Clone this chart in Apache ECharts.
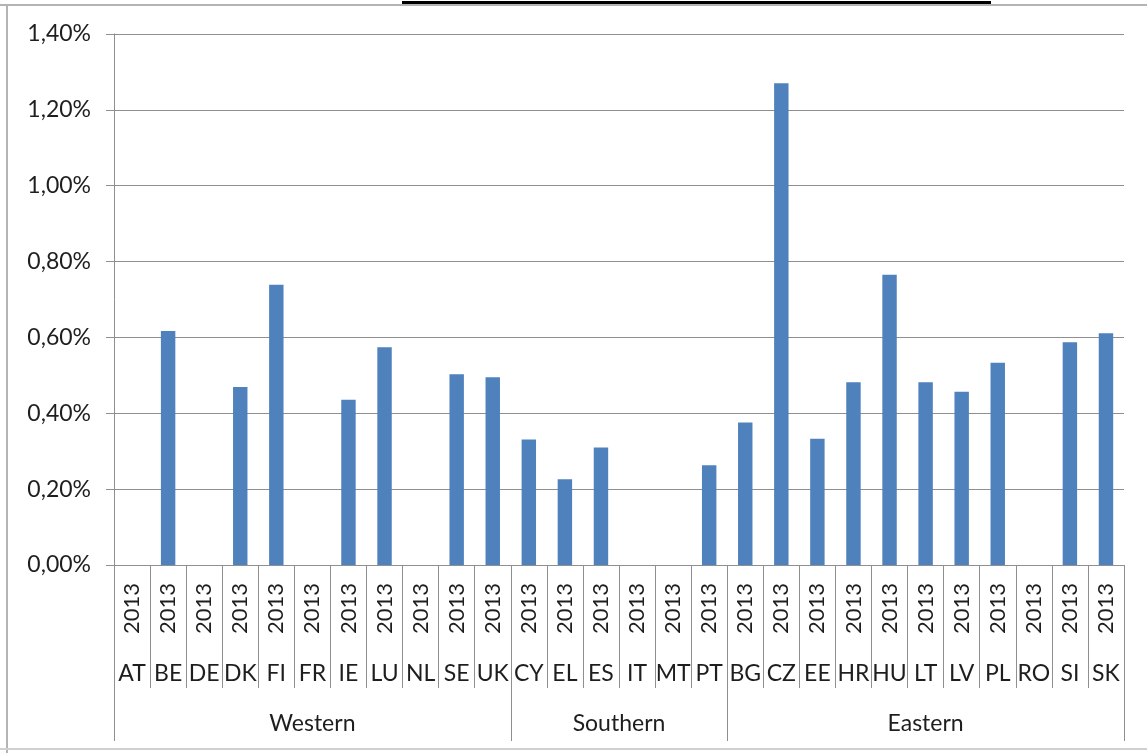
<!DOCTYPE html>
<html>
<head>
<meta charset="utf-8">
<script src="https://cdn.jsdelivr.net/npm/echarts@6/dist/echarts.min.js"></script>
<style>
html,body{margin:0;padding:0;background:#fff;}
#chart{width:1147px;height:753px;}
</style>
</head>
<body>
<div id="chart"></div>
<script>
// ---- data ----
var countries = ['AT','BE','DE','DK','FI','FR','IE','LU','NL','SE','UK','CY','EL','ES','IT','MT','PT','BG','CZ','EE','HR','HU','LT','LV','PL','RO','SI','SK'];
var years = ['2013','2013','2013','2013','2013','2013','2013','2013','2013','2013','2013','2013','2013','2013','2013','2013','2013','2013','2013','2013','2013','2013','2013','2013','2013','2013','2013','2013'];
var values = [0, 0.617, 0, 0.469, 0.739, 0, 0.436, 0.574, 0, 0.503, 0.495, 0.331, 0.226, 0.310, 0, 0, 0.263, 0.376, 1.270, 0.333, 0.482, 0.765, 0.482, 0.457, 0.533, 0, 0.587, 0.611];
var regions = ['Western','Southern','Eastern'];
var regionStart = [0, 11, 17];
var regionCount = [11, 6, 11];
var yTicks = ['0,00%','0,20%','0,40%','0,60%','0,80%','1,00%','1,20%','1,40%'];

var FONT = 'Lato';
var GRAY = '#8f8f8f';
var TXT = '#1e1e1e';

// region label centers (in category units)
var regionCenters = regionStart.map(function (s, i) { return s + regionCount[i] / 2; });

var chart = echarts.init(document.getElementById('chart'), null, {renderer: 'canvas'});
var option = {
  animation: false,
  backgroundColor: '#fff',
  grid: {left: 114, right: 23, top: 34, bottom: 188, containLabel: false},
  xAxis: [
    {
      type: 'category', data: years, position: 'bottom', boundaryGap: true,
      axisLine: {show: true, lineStyle: {color: GRAY, width: 1}},
      axisTick: {show: true, length: 123, lineStyle: {color: GRAY, width: 1}},
      axisLabel: {interval: 0, rotate: 90, margin: 18, fontFamily: FONT, fontSize: 22, color: TXT}
    },
    {
      type: 'category', data: countries, position: 'bottom', boundaryGap: true,
      axisLine: {show: false},
      axisTick: {show: true, length: 176, lineStyle: {color: GRAY, width: 1},
        interval: function (i) { return regionStart.indexOf(i) >= 0; }},
      axisLabel: {interval: 0, margin: 97, fontFamily: FONT, fontSize: 23, color: TXT}
    },
    {
      type: 'value', position: 'bottom', min: 0, max: countries.length, interval: 0.5,
      axisLine: {show: false}, axisTick: {show: false}, splitLine: {show: false},
      axisLabel: {margin: 147, fontFamily: FONT, fontSize: 23, color: TXT,
        showMinLabel: true, showMaxLabel: true,
        formatter: function (v) {
          var k = regionCenters.indexOf(v);
          return k >= 0 ? regions[k] : '';
        }}
    }
  ],
  yAxis: {
    type: 'value', min: 0, max: 1.4, interval: 0.2,
    axisLine: {show: true, lineStyle: {color: GRAY, width: 1}},
    axisTick: {show: true, length: 8, lineStyle: {color: GRAY}},
    splitLine: {show: true, lineStyle: {color: GRAY, width: 1}},
    axisLabel: {margin: 23, fontFamily: FONT, fontSize: 23, color: TXT,
      formatter: function (v) { return yTicks[Math.round(v / 0.2)]; }}
  },
  series: [{
    type: 'bar', xAxisIndex: 0, data: values, barWidth: '40%',
    itemStyle: {color: '#4f81bd'}
  }],
  graphic: [
    {type: 'rect', shape: {x: 0, y: 4, width: 1147, height: 2}, style: {fill: '#b4b4b4'}, silent: true},
    {type: 'rect', shape: {x: 6, y: 4, width: 2, height: 749}, style: {fill: '#b4b4b4'}, silent: true},
    {type: 'rect', shape: {x: 0, y: 748, width: 1147, height: 2}, style: {fill: '#d0d0d0'}, silent: true},
    {type: 'rect', shape: {x: 402, y: 1, width: 589, height: 3}, style: {fill: '#000'}, silent: true}
  ]
};
chart.setOption(option);
</script>
</body>
</html>
